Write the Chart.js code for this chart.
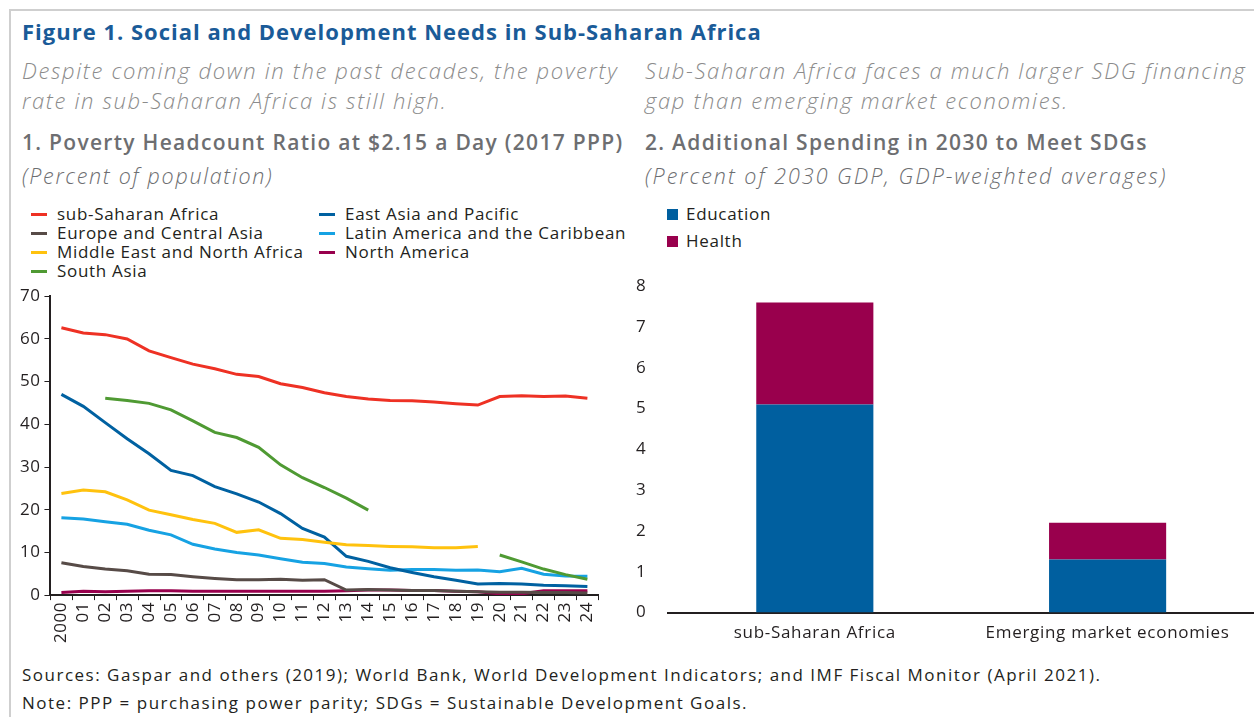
<!DOCTYPE html>
<html>
<head>
<meta charset="utf-8">
<script src="https://cdn.jsdelivr.net/npm/chart.js@4.4.0/dist/chart.umd.min.js"></script>
<style>
  body { margin: 0; width: 1254px; height: 717px; background: #fff; position: relative; overflow: hidden;
         font-family: "Open Sans", "Noto Sans", sans-serif; color: #231f20; }
  .frame { position: absolute; left: 9px; top: 9px; width: 1260px; height: 720px;
           border-left: 2px solid #cfcfcf; border-top: 2px solid #cfcfcf; }
  .txt { position: absolute; white-space: nowrap; }
  .title { left: 22px; top: 16px; font-size: 22px; font-weight: 700; color: #1a5b98; letter-spacing: 1px; }
  .lead { font-size: 22px; font-style: italic; font-weight: 300; color: #8b8b8b; line-height: 30px; letter-spacing: 1.65px; }
  .panel { font-size: 21px; font-weight: 600; color: #6d6e71; letter-spacing: 1.3px; }
  .unit { font-size: 21.5px; font-style: italic; font-weight: 300; color: #6d6e71; letter-spacing: 1.7px; }
  .foot { left: 22px; font-size: 17px; color: #231f20; letter-spacing: 1.5px; }
  .legend { position: absolute; font-size: 17px; color: #231f20; letter-spacing: 0.7px; }
  .legend .item { position: absolute; white-space: nowrap; line-height: 19px; }
  .legend .line { display: inline-block; width: 16px; height: 3px; vertical-align: middle; margin-right: 10px; position: relative; top: -1px; }
  .legend .box { display: inline-block; width: 11px; height: 11px; vertical-align: middle; margin-right: 8px; position: relative; top: -1px; }
  canvas { position: absolute; }
</style>
</head>
<body>
<div class="frame"></div>

<div class="txt title">Figure 1. Social and Development Needs in Sub-Saharan Africa</div>
<div class="txt lead" style="left:22px; top:55px;">Despite coming down in the past decades, the poverty<br>rate in sub-Saharan Africa is still high.</div>
<div class="txt lead" style="left:645px; top:55px;">Sub-Saharan Africa faces a much larger SDG financing<br>gap than emerging market economies.</div>
<div class="txt panel" style="left:22px; top:128px;">1. Poverty Headcount Ratio at $2.15 a Day (2017 PPP)</div>
<div class="txt panel" style="left:645px; top:128px;">2. Additional Spending in 2030 to Meet SDGs</div>
<div class="txt unit" style="left:22px; top:161px;">(Percent of population)</div>
<div class="txt unit" style="left:645px; top:161px; letter-spacing:2px;">(Percent of 2030 GDP, GDP-weighted averages)</div>

<div class="legend" id="povertyLegend"></div>
<div class="legend" id="spendingLegend"></div>

<canvas id="povertyChart" width="600" height="363" style="left:10px; top:282px;"></canvas>
<canvas id="spendingChart" width="634" height="383" style="left:620px; top:262px;"></canvas>

<div class="txt foot" style="top:663px;">Sources: Gaspar and others (2019); World Bank, World Development Indicators; and IMF Fiscal Monitor (April 2021).</div>
<div class="txt foot" style="top:691px;">Note: PPP = purchasing power parity; SDGs = Sustainable Development Goals.</div>

<script>
// Panel 1: poverty headcount ratio, percent of population
const years = ['2000', '01', '02', '03', '04', '05', '06', '07', '08', '09', '10', '11', '12',
               '13', '14', '15', '16', '17', '18', '19', '20', '21', '22', '23', '24'];

const subSaharanAfrica = [62.6, 61.4, 61.0, 60.0, 57.2, 55.6, 54.1, 53.0, 51.7, 51.2, 49.5, 48.6, 47.4,
                          46.5, 45.9, 45.6, 45.5, 45.2, 44.8, 44.5, 46.5, 46.7, 46.5, 46.6, 46.1];
const eastAsiaPacific = [47.0, 44.2, 40.4, 36.6, 33.1, 29.2, 28.0, 25.4, 23.7, 21.8, 19.1, 15.6, 13.6,
                         9.1, 7.9, 6.4, 5.3, 4.3, 3.5, 2.6, 2.7, 2.6, 2.3, 2.2, 2.0];
const europeCentralAsia = [7.6, 6.7, 6.1, 5.7, 4.9, 4.8, 4.3, 3.9, 3.6, 3.6, 3.7, 3.5, 3.6,
                           1.2, 1.3, 1.2, 1.1, 1.1, 0.9, 0.8, 0.7, 0.7, 0.6, 0.6, 0.5];
const latinAmerica = [18.1, 17.8, 17.2, 16.6, 15.2, 14.1, 11.9, 10.8, 10.0, 9.4, 8.5, 7.7, 7.4,
                      6.6, 6.2, 5.8, 6.0, 6.0, 5.8, 5.9, 5.5, 6.3, 4.9, 4.5, 4.4];
const middleEastNorthAfrica = [23.8, 24.6, 24.2, 22.3, 19.9, 18.8, 17.7, 16.8, 14.7, 15.3, 13.3, 13.0, 12.4,
                               11.8, 11.6, 11.4, 11.3, 11.1, 11.1, 11.4, null, null, null, null, null];
const northAmerica = [0.6, 0.9, 0.8, 0.9, 1.0, 1.0, 0.9, 0.9, 0.9, 0.9, 0.9, 0.9, 0.9,
                      1.0, 1.2, 1.2, 1.1, 1.1, 0.9, 0.8, 0.3, 0.3, 1.0, 1.0, 1.0];
const southAsia = [null, null, 46.1, 45.6, 44.9, 43.4, 40.8, 38.1, 36.9, 34.6, 30.5, 27.5, 25.2,
                   22.7, 19.9, null, null, null, null, null, 9.4, 7.8, 6.1, 4.8, 3.7];

const povertyTicks = [0, 10, 20, 30, 40, 50, 60, 70];

// Panel 2: additional spending in 2030, percent of GDP
const groups = ['sub-Saharan Africa', 'Emerging market economies'];
const education = [5.1, 1.3];
const health = [2.5, 0.9];
const spendingTicks = [0, 1, 2, 3, 4, 5, 6, 7, 8];

const regionSeries = [
  { name: 'sub-Saharan Africa', values: subSaharanAfrica, color: '#ee3124' },
  { name: 'Europe and Central Asia', values: europeCentralAsia, color: '#574b47' },
  { name: 'Middle East and North Africa', values: middleEastNorthAfrica, color: '#ffc20e' },
  { name: 'South Asia', values: southAsia, color: '#4f9a33' },
  { name: 'East Asia and Pacific', values: eastAsiaPacific, color: '#0061a1' },
  { name: 'Latin America and the Caribbean', values: latinAmerica, color: '#16a2e3' },
  { name: 'North America', values: northAmerica, color: '#98004d' }
];

const fontFamily = '"Open Sans", "Noto Sans", sans-serif';
Chart.defaults.font.family = fontFamily;
Chart.defaults.color = '#231f20';

// wider tick text: canvas letter spacing, set again whenever the canvas state may have been reset
const letterSpacing = {
  id: 'letterSpacing',
  beforeUpdate(chart, args, opts) { chart.ctx.letterSpacing = opts.value || '0px'; },
  beforeDraw(chart, args, opts) { chart.ctx.letterSpacing = opts.value || '0px'; }
};

// legend for panel 1: two columns, four rows
const legend1 = document.getElementById('povertyLegend');
regionSeries.forEach((s, i) => {
  const el = document.createElement('div');
  el.className = 'item';
  const col = i < 4 ? 0 : 1;
  const row = i < 4 ? i : i - 4;
  el.style.left = (col === 0 ? 31 : 319) + 'px';
  el.style.top = (204 + row * 19) + 'px';
  el.innerHTML = '<span class="line" style="background:' + s.color + '"></span>' + s.name;
  legend1.appendChild(el);
});

const povertyChart = new Chart(document.getElementById('povertyChart'), {
  type: 'line',
  data: {
    labels: years,
    datasets: regionSeries.map(s => ({
      label: s.name,
      data: s.values,
      borderColor: s.color,
      backgroundColor: s.color,
      borderWidth: 3,
      pointRadius: 0,
      tension: 0,
      spanGaps: false
    }))
  },
  plugins: [letterSpacing],
  options: {
    responsive: false,
    animation: false,
    layout: { padding: { top: 10, right: 10, left: 6, bottom: 0 } },
    plugins: { legend: { display: false }, tooltip: { enabled: false }, letterSpacing: { value: '0.5px' } },
    scales: {
      x: {
        offset: true,
        grid: { offset: true, drawOnChartArea: false, tickLength: 5, color: '#231f20', lineWidth: 1 },
        border: { color: '#231f20', width: 2 },
        ticks: { autoSkip: false, maxRotation: 90, minRotation: 90, padding: 2,
                 font: { size: 17 }, color: '#231f20' }
      },
      y: {
        min: 0,
        max: 70,
        afterBuildTicks: axis => { axis.ticks = povertyTicks.map(v => ({ value: v })); },
        grid: { drawOnChartArea: false, tickLength: 6, color: '#231f20' },
        border: { color: '#231f20', width: 2 },
        ticks: { font: { size: 17 }, color: '#231f20', padding: 4 }
      }
    }
  }
});

// legend for panel 2
const legend2 = document.getElementById('spendingLegend');
[['Education', '#005f9f'], ['Health', '#99004d']].forEach((d, i) => {
  const el = document.createElement('div');
  el.className = 'item';
  el.style.left = '667px';
  el.style.top = (204 + i * 27) + 'px';
  el.innerHTML = '<span class="box" style="background:' + d[1] + '"></span>' + d[0];
  legend2.appendChild(el);
});

const spendingChart = new Chart(document.getElementById('spendingChart'), {
  type: 'bar',
  data: {
    labels: groups,
    datasets: [
      { label: 'Education', data: education, backgroundColor: '#005f9f' },
      { label: 'Health', data: health, backgroundColor: '#99004d' }
    ]
  },
  plugins: [letterSpacing],
  options: {
    responsive: false,
    animation: false,
    layout: { padding: { top: 8, right: 0, left: 2 } },
    plugins: { legend: { display: false }, tooltip: { enabled: false }, letterSpacing: { value: '0.7px' } },
    datasets: { bar: { categoryPercentage: 1, barPercentage: 0.4 } },
    scales: {
      x: {
        stacked: true,
        grid: { display: false },
        border: { color: '#231f20', width: 2 },
        ticks: { font: { size: 17 }, color: '#231f20', padding: 2 }
      },
      y: {
        stacked: true,
        min: 0,
        max: 8,
        afterBuildTicks: axis => { axis.ticks = spendingTicks.map(v => ({ value: v })); },
        grid: { display: false },
        border: { display: false },
        ticks: { font: { size: 17 }, color: '#231f20', padding: 14 }
      }
    }
  }
});
</script>
</body>
</html>
